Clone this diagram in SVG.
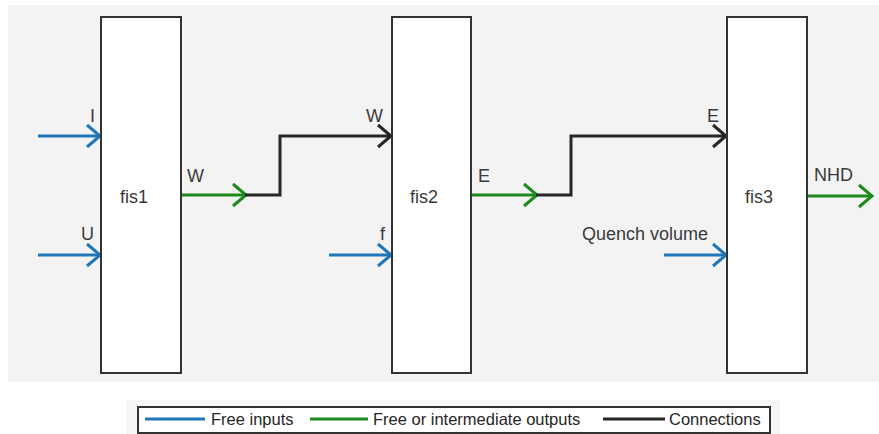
<svg xmlns="http://www.w3.org/2000/svg" width="879" height="434" viewBox="0 0 879 434">
<style>
.box{fill:#ffffff;stroke:#333333;stroke-width:2}
.lbl{font-family:"Liberation Sans",Arial,sans-serif;font-size:18px;fill:#3a3a3a}
.leg{font-family:"Liberation Sans",Arial,sans-serif;font-size:16.5px;fill:#262626}
.in{fill:none;stroke:#1f77b9;stroke-width:3}
.out{fill:none;stroke:#1c8a1c;stroke-width:3}
.con{fill:none;stroke:#262626;stroke-width:3}
</style>
<defs>
<marker id="ab" markerUnits="userSpaceOnUse" markerWidth="18" markerHeight="26" viewBox="0 0 18 26" refX="15" refY="13" orient="auto">
<path d="M2,2 L15,13 L2,24" fill="none" stroke="#1f77b9" stroke-width="3"/>
</marker>
<marker id="ag" markerUnits="userSpaceOnUse" markerWidth="18" markerHeight="26" viewBox="0 0 18 26" refX="15" refY="13" orient="auto">
<path d="M2,2 L15,13 L2,24" fill="none" stroke="#1c8a1c" stroke-width="3"/>
</marker>
<marker id="ak" markerUnits="userSpaceOnUse" markerWidth="18" markerHeight="26" viewBox="0 0 18 26" refX="15" refY="13" orient="auto">
<path d="M2,2 L15,13 L2,24" fill="none" stroke="#262626" stroke-width="3"/>
</marker>
</defs>
<rect x="8" y="5" width="871" height="377" fill="#f3f3f3"/>
<g id="connectors">
<path class="in" d="M38,136 H100" marker-end="url(#ab)"/>
<path class="in" d="M38,255 H100" marker-end="url(#ab)"/>
<path class="out" d="M181,195 H246" marker-end="url(#ag)"/>
<path class="con" d="M245,195 H280 V136 H391" marker-end="url(#ak)"/>
<path class="in" d="M329,255 H391" marker-end="url(#ab)"/>
<path class="out" d="M471,195 H537" marker-end="url(#ag)"/>
<path class="con" d="M536,195 H571 V136 H726" marker-end="url(#ak)"/>
<path class="in" d="M664,255 H726" marker-end="url(#ab)"/>
<path class="out" d="M807,196 H872" marker-end="url(#ag)"/>
</g>
<g id="fis1">
<rect class="box" x="101" y="17" width="80" height="356"/>
<text class="lbl" x="120" y="203">fis1</text>
</g>
<g id="fis2">
<rect class="box" x="392" y="17" width="79" height="356"/>
<text class="lbl" x="410" y="203">fis2</text>
</g>
<g id="fis3">
<rect class="box" x="727" y="17" width="80" height="356"/>
<text class="lbl" x="745" y="203">fis3</text>
</g>
<g id="labels">
<text class="lbl" x="90" y="122">I</text>
<text class="lbl" x="81" y="240">U</text>
<text class="lbl" x="187" y="182">W</text>
<text class="lbl" x="366" y="122">W</text>
<text class="lbl" x="380" y="240">f</text>
<text class="lbl" x="478" y="182">E</text>
<text class="lbl" x="707" y="122">E</text>
<text class="lbl" x="582" y="240">Quench volume</text>
<text class="lbl" x="814" y="181">NHD</text>
</g>
<g id="legend">
<rect x="126" y="400" width="654" height="34" fill="#f6f6f6"/>
<rect x="138" y="407" width="632" height="26" fill="#ffffff" stroke="#333333" stroke-width="2"/>
<line x1="145" y1="419" x2="205" y2="419" stroke="#1f77b9" stroke-width="3"/>
<text class="leg" x="211" y="425">Free inputs</text>
<line x1="310" y1="419" x2="368" y2="419" stroke="#1c8a1c" stroke-width="3"/>
<text class="leg" x="373" y="425">Free or intermediate outputs</text>
<line x1="603" y1="419" x2="665" y2="419" stroke="#262626" stroke-width="3"/>
<text class="leg" x="669" y="425">Connections</text>
</g>
</svg>
